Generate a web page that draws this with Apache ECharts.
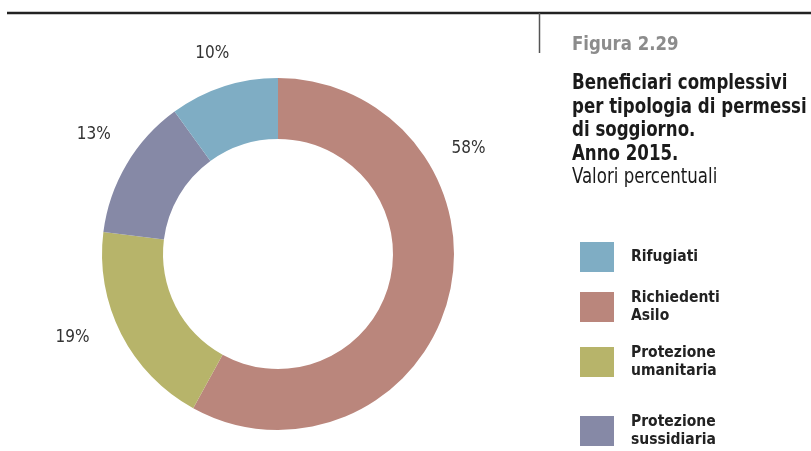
<!DOCTYPE html>
<html>
<head>
<meta charset="utf-8">
<script src="https://cdn.jsdelivr.net/npm/echarts@6/dist/echarts.min.js"></script>
<style>
html,body{margin:0;padding:0;background:#fff;}
#main{width:811px;height:451px;}
</style>
</head>
<body>
<div id="main"></div>
<script>
// Data
const categories = ['Richiedenti Asilo', 'Protezione umanitaria', 'Protezione sussidiaria', 'Rifugiati'];
const values = [58, 19, 13, 10];
const legendOrder = ['Rifugiati', 'Richiedenti Asilo', 'Protezione umanitaria', 'Protezione sussidiaria'];
const legendLabels = ['Rifugiati', 'Richiedenti\nAsilo', 'Protezione\numanitaria', 'Protezione\nsussidiaria'];
const figNumber = 'Figura 2.29';
const titleLines = ['Beneficiari complessivi', 'per tipologia di permessi', 'di soggiorno.', 'Anno 2015.'];
const subtitle = 'Valori percentuali';

// Styles / layout
const colorMap = {
  'Richiedenti Asilo': '#ba867c',
  'Protezione umanitaria': '#b7b46a',
  'Protezione sussidiaria': '#8689a6',
  'Rifugiati': '#7fadc4'
};
const labelShift = [[-31, -157], [0, -10], [15, -15], [20, -5]];
const legendTops = [242, 289, 344, 413];
const FONT = '"Liberation Sans Narrow", "DejaVu Sans Condensed", "Roboto Condensed", sans-serif';

const chart = echarts.init(document.getElementById('main'), null, {renderer: 'canvas'});

const legends = legendOrder.map((name, i) => ({
  data: [name],
  left: 580,
  top: legendTops[i],
  padding: 0,
  orient: 'vertical',
  itemWidth: 34,
  itemHeight: 30,
  itemGap: 0,
  selectedMode: false,
  icon: 'rect',
  formatter: () => legendLabels[i],
  textStyle: {fontFamily: FONT, fontWeight: 'bold', fontSize: 15.5, lineHeight: 18, color: '#222', padding: [0, 0, 0, 12]}
}));

function txt(str, y, weight, size, color, sx) {
  return {
    type: 'text', x: 572, y: y, scaleX: sx,
    style: {x: 0, y: 0, text: str, font: weight + ' ' + size + 'px ' + FONT, fill: color, textAlign: 'left', textVerticalAlign: 'middle', verticalAlign: 'middle'}
  };
}

const graphics = [
  {type: 'line', shape: {x1: 7, y1: 13, x2: 811, y2: 13}, style: {stroke: '#222', lineWidth: 2.6}},
  {type: 'line', shape: {x1: 539.5, y1: 13, x2: 539.5, y2: 53}, style: {stroke: '#555', lineWidth: 1.5}},
  txt(figNumber, 45, 'bold', 20, '#8c8c8c', 0.92)
];
titleLines.forEach((t, i) => graphics.push(txt(t, 84 + i * 23.4, 'bold', 21, '#1a1a1a', 0.88)));
graphics.push(txt(subtitle, 84 + 4 * 23.4, 'normal', 21, '#1a1a1a', 0.88));

chart.setOption({
  animation: false,
  legend: legends,
  graphic: graphics,
  series: [{
    type: 'pie',
    center: [278, 254],
    radius: [115, 176],
    startAngle: 90,
    clockwise: true,
    avoidLabelOverlap: false,
    itemStyle: {borderWidth: 0},
    label: {
      show: true,
      position: 'outside',
      formatter: '{c}%',
      fontFamily: FONT,
      fontSize: 17,
      color: '#333'
    },
    labelLine: {show: false, length: 30, length2: 0},
    labelLayout: (p) => ({dx: labelShift[p.dataIndex][0], dy: labelShift[p.dataIndex][1]}),
    emphasis: {disabled: true},
    data: categories.map((c, i) => ({name: c, value: values[i], itemStyle: {color: colorMap[c]}}))
  }]
});
</script>
</body>
</html>
